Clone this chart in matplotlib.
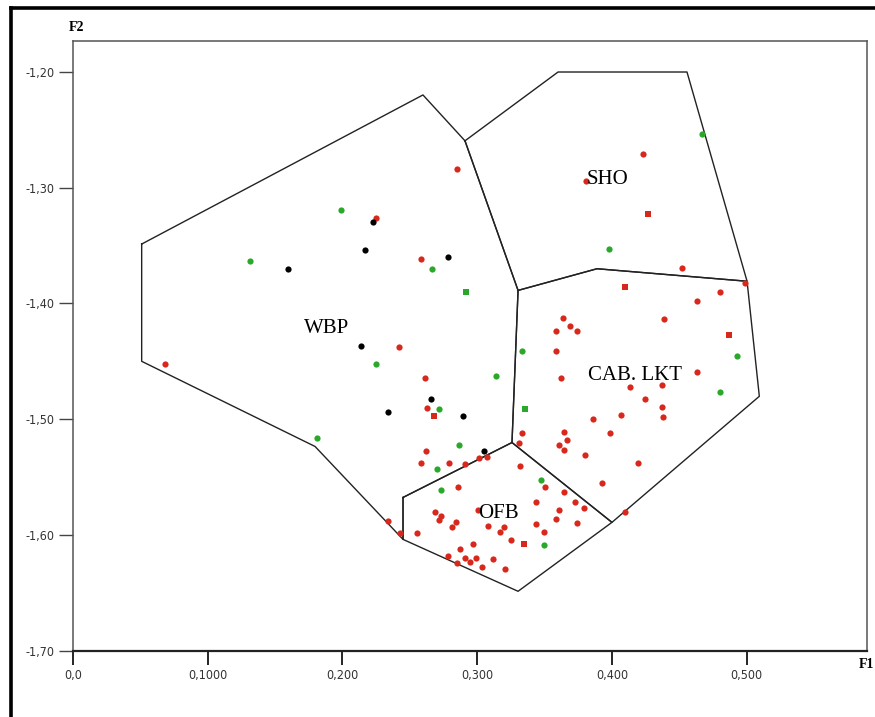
import numpy as np
import matplotlib
matplotlib.use('Agg')
import matplotlib.pyplot as plt
from matplotlib.lines import Line2D
from matplotlib import font_manager

# group outlines (F1, F2)
wbp_x = [0.0510, 0.2598, 0.2910, 0.3304, 0.3259, 0.2450, 0.2450, 0.1797, 0.0510, 0.0510]
wbp_y = [-1.3488, -1.2201, -1.2597, -1.3888, -1.5201, -1.5675, -1.6037, -1.5235, -1.4500, -1.3488]
sho_x = [0.2910, 0.3601, 0.4558, 0.5004, 0.3890, 0.3304, 0.2910]
sho_y = [-1.2597, -1.2003, -1.2003, -1.3809, -1.3701, -1.3888, -1.2597]
cab_x = [0.3304, 0.3890, 0.5004, 0.5095, 0.4001, 0.3259, 0.3304]
cab_y = [-1.3888, -1.3701, -1.3809, -1.4802, -1.5890, -1.5201, -1.3888]
ofb_x = [0.2450, 0.3259, 0.4001, 0.3304, 0.2450, 0.2450]
ofb_y = [-1.5675, -1.5201, -1.5890, -1.6485, -1.6037, -1.5675]

region_names = ['WBP', 'SHO', 'CAB. LKT', 'OFB']
region_lx = [0.1881, 0.3970, 0.4169, 0.3160]
region_ly = [-1.4216, -1.2928, -1.4623, -1.5813]

black_x = [0.2224, 0.2167, 0.1593, 0.2785, 0.2137, 0.2656, 0.2339, 0.2899, 0.3050]
black_y = [-1.3298, -1.3540, -1.3701, -1.3603, -1.4364, -1.4826, -1.4938, -1.4970, -1.5274]

green_x = [0.1986, 0.1311, 0.2662, 0.2250, 0.3139, 0.3334, 0.2716, 0.1810, 0.2869, 0.2701,
           0.2731, 0.3476, 0.3493, 0.4667, 0.3979, 0.4929, 0.4801]
green_y = [-1.3190, -1.3632, -1.3707, -1.4522, -1.4629, -1.4412, -1.4908, -1.5160, -1.5218, -1.5427,
           -1.5610, -1.5528, -1.6086, -1.2540, -1.3528, -1.4455, -1.4764]
green_sq_x = [0.2914, 0.3354]
green_sq_y = [-1.3899, -1.4912]

red_x = [0.2854, 0.2248, 0.2582, 0.0685, 0.2417, 0.2612, 0.2629, 0.2619, 0.2586, 0.2788,
         0.2907, 0.3015, 0.3074, 0.2340, 0.2430, 0.2858, 0.2690, 0.2731, 0.2714, 0.2840,
         0.2812, 0.3010, 0.3082, 0.3198, 0.3172, 0.2555, 0.3250, 0.2968, 0.2873, 0.2786,
         0.2911, 0.2949, 0.2995, 0.3115, 0.2854, 0.3036, 0.3205, 0.3309, 0.3334, 0.3317,
         0.3605, 0.3643, 0.3803, 0.3648, 0.3665, 0.3990, 0.3861, 0.4066, 0.4192, 0.3927,
         0.3502, 0.3648, 0.3439, 0.3723, 0.3794, 0.3610, 0.3589, 0.3743, 0.3438, 0.3495,
         0.4097, 0.3621, 0.3582, 0.3638, 0.3690, 0.3745, 0.3589, 0.4135, 0.4370, 0.4246,
         0.4370, 0.4383, 0.4635, 0.4391, 0.4635, 0.4801, 0.4521, 0.4986, 0.4229, 0.3812]
red_y = [-1.2836, -1.3261, -1.3617, -1.4520, -1.4373, -1.4645, -1.4903, -1.5272, -1.5376, -1.5377,
         -1.5390, -1.5333, -1.5324, -1.5879, -1.5981, -1.5587, -1.5800, -1.5836, -1.5873, -1.5888,
         -1.5933, -1.5783, -1.5922, -1.5933, -1.5975, -1.5985, -1.6039, -1.6078, -1.6119, -1.6183,
         -1.6198, -1.6233, -1.6198, -1.6209, -1.6242, -1.6272, -1.6295, -1.5202, -1.5121, -1.5403,
         -1.5226, -1.5264, -1.5308, -1.5112, -1.5175, -1.5120, -1.5002, -1.4965, -1.5379, -1.5551,
         -1.5589, -1.5627, -1.5712, -1.5712, -1.5768, -1.5780, -1.5857, -1.5894, -1.5901, -1.5972,
         -1.5800, -1.4643, -1.4410, -1.4126, -1.4198, -1.4238, -1.4241, -1.4720, -1.4707, -1.4824,
         -1.4893, -1.4979, -1.4591, -1.4132, -1.3979, -1.3906, -1.3698, -1.3827, -1.2712, -1.2942]
red_sq_x = [0.4269, 0.4098, 0.4870, 0.2681, 0.3346]
red_sq_y = [-1.3227, -1.3856, -1.4270, -1.4970, -1.6074]

xticks = [0.0, 0.1, 0.2, 0.3, 0.4, 0.5]
xlabels = ['0,0', '0,1000', '0,200', '0,300', '0,400', '0,500']
yticks = [-1.20, -1.30, -1.40, -1.50, -1.60, -1.70]
ylabels = ['-1,20', '-1,30', '-1,40', '-1,50', '-1,60', '-1,70']

# narrow font for the ticks if there is one
names = set(f.name for f in font_manager.fontManager.ttflist)
if 'Liberation Sans Narrow' in names:
    tick_font = dict(family='Liberation Sans Narrow', size=10)
else:
    tick_font = dict(family='DejaVu Sans', stretch='condensed', size=9)

fig = plt.figure(figsize=(8.75, 7.17), dpi=100)
ax = fig.add_axes([0.0834, 0.0921, 0.9071, 0.8511])

for xs, ys in [(wbp_x, wbp_y), (sho_x, sho_y), (cab_x, cab_y), (ofb_x, ofb_y)]:
    ax.plot(xs, ys, color='#222222', lw=1.0, zorder=2)

red = '#d8281c'
green = '#2aa82a'
ax.scatter(red_x, red_y, s=20, c=red, marker='o', linewidths=0, zorder=3)
ax.scatter(red_sq_x, red_sq_y, s=17, c=red, marker='s', linewidths=0, zorder=3)
ax.scatter(green_x, green_y, s=20, c=green, marker='o', linewidths=0, zorder=3)
ax.scatter(green_sq_x, green_sq_y, s=17, c=green, marker='s', linewidths=0, zorder=3)
ax.scatter(black_x, black_y, s=20, c='black', marker='o', linewidths=0, zorder=3)

for name, lx, ly in zip(region_names, region_lx, region_ly):
    ax.text(lx, ly, name, family=['Liberation Serif', 'DejaVu Serif'], fontsize=15,
            ha='center', va='center', zorder=4)

ax.set_xlim(0, 0.5892)
ax.set_ylim(-1.6994, -1.1733)
ax.set_xticks(xticks)
ax.set_xticklabels(xlabels)
ax.set_yticks(yticks)
ax.set_yticklabels(ylabels)
for lab in ax.get_xticklabels() + ax.get_yticklabels():
    lab.set_fontproperties(font_manager.FontProperties(**tick_font))
    lab.set_color('#333333')
ax.tick_params(axis='x', direction='out', length=10, width=1.2, color='black', pad=3)
ax.tick_params(axis='y', direction='out', length=10, width=1.0, color='#444444', pad=3)

for s in ['top', 'right', 'left']:
    ax.spines[s].set_color('#555555')
    ax.spines[s].set_linewidth(1.1)
ax.spines['bottom'].set_color('#222222')
ax.spines['bottom'].set_linewidth(1.6)

fig.text(0.088, 0.962, 'F2', family=['Liberation Serif', 'DejaVu Serif'], fontsize=10,
         fontweight='bold', ha='center', va='center')
fig.text(0.990, 0.073, 'F1', family=['Liberation Serif', 'DejaVu Serif'], fontsize=10,
         fontweight='bold', ha='center', va='center')

# thick frame on top and left of the picture
fig.add_artist(Line2D([0.0126, 1.0], [0.9895, 0.9895], color='black', lw=2.6))
fig.add_artist(Line2D([0.0126, 0.0126], [0.0, 0.9895], color='black', lw=2.6))

fig.savefig('out.png', dpi=100)
